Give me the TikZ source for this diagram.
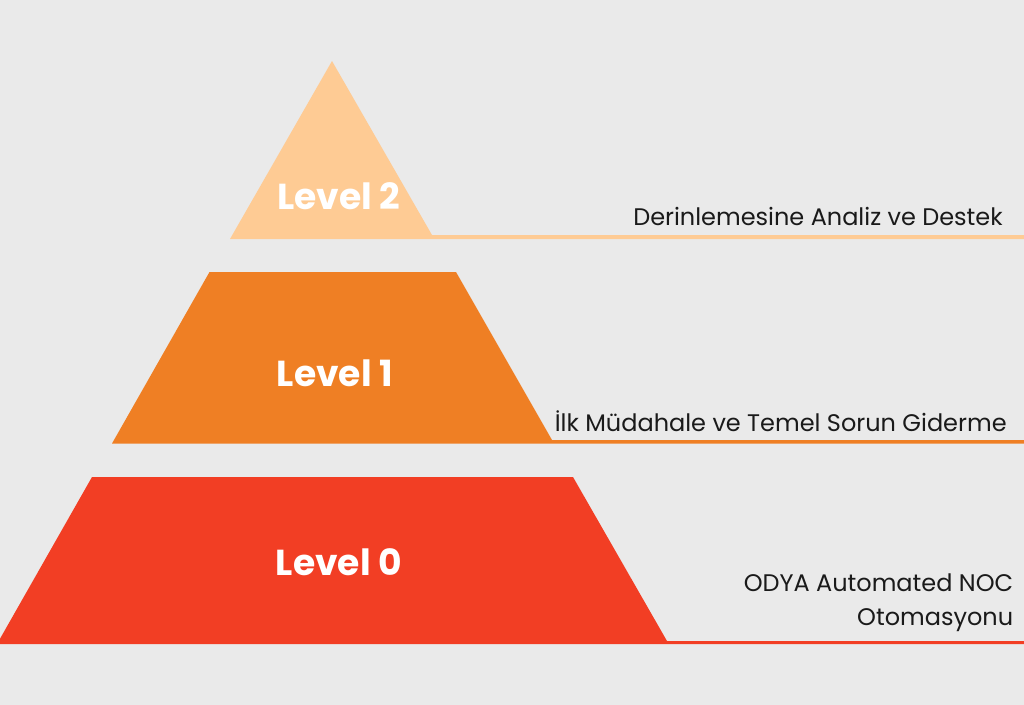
\documentclass[tikz,border=0pt]{standalone}
\usepackage{fontspec}
\setmainfont{Poppins}
\usepackage{tikz}

\definecolor{bgcol}{HTML}{EAEAEA}
\definecolor{levelA}{HTML}{FECB94}
\definecolor{levelB}{HTML}{EF7F24}
\definecolor{levelC}{HTML}{F23E24}
\definecolor{inkcol}{HTML}{1A1A1A}

\tikzset{
  leveltext/.style={text=white,font=\fontsize{20.55}{24}\selectfont\bfseries,inner sep=0pt,anchor=base west},
  desctext/.style={text=inkcol,font=\fontsize{13.65}{19.5}\selectfont,inner sep=0pt,anchor=base east,align=right}
}

\begin{document}
\begin{tikzpicture}[x=0.2mm,y=0.2mm]
            \clip (0,-705) rectangle (1024,0);
            \useasboundingbox (0,-705) rectangle (1024,0);
            \fill [bgcol] (0,-705) rectangle (1024,0);
            % top level
            \coordinate (topA) at (332,-61);
            \coordinate (leftA) at (230,-239);
            \coordinate (rightA) at (432,-235);
            \coordinate (endA) at (1024,-235);
            \coordinate (endAb) at (1024,-239);
            \fill [levelA] (topA) -- (rightA) -- (endA) -- (endAb) -- (leftA) -- cycle;
            \node [leveltext] (labelA) at (277,-209) {Level 2};
            \node [desctext] (descA) at (1003,-225) {Derinlemesine Analiz ve Destek};
            % middle level
            \coordinate (topleftB) at (209.5,-272);
            \coordinate (toprightB) at (456,-272);
            \coordinate (leftB) at (112,-443.5);
            \coordinate (rightB) at (552,-440);
            \coordinate (endB) at (1024,-440);
            \coordinate (endBb) at (1024,-443.5);
            \fill [levelB] (topleftB) -- (toprightB) -- (rightB) -- (endB) -- (endBb) -- (leftB) -- cycle;
            \node [leveltext] (labelB) at (276.5,-386) {Level 1};
            \node [desctext] (descB) at (1007,-431) {İlk Müdahale ve Temel Sorun Giderme};
            % bottom level
            \coordinate (topleftC) at (92,-477);
            \coordinate (toprightC) at (573,-477);
            \coordinate (leftC) at (-3,-644);
            \coordinate (rightC) at (667,-641);
            \coordinate (endC) at (1024,-641);
            \coordinate (endCb) at (1024,-644);
            \fill [levelC] (topleftC) -- (toprightC) -- (rightC) -- (endC) -- (endCb) -- (leftC) -- cycle;
            \node [leveltext] (labelC) at (275.5,-575) {Level 0};
            \node [desctext] (descC) at (1013.5,-591) {ODYA Automated NOC};
            \node [desctext] (descD) at (1013.5,-625) {Otomasyonu};
\end{tikzpicture}
\end{document}
